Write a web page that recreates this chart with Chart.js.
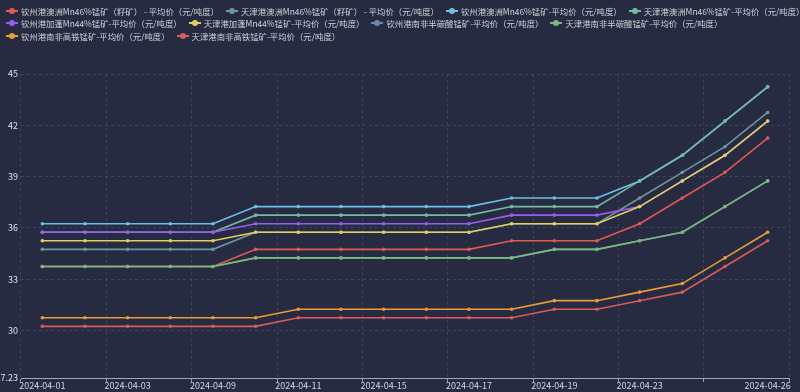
<!DOCTYPE html>
<html>
<head>
<meta charset="utf-8">
<script src="https://cdn.jsdelivr.net/npm/chart.js@4.4.1/dist/chart.umd.min.js"></script>
<style>
html,body{margin:0;padding:0;background:#262b42;}
#wrap{position:relative;width:800px;height:392px;overflow:hidden;background:#262b42;}
#chart{position:absolute;left:0;top:0;}
#legend{position:absolute;left:6px;top:4.5px;font-family:'Noto Sans CJK SC','Noto Sans',sans-serif;font-size:8.4px;color:#d0d1d9;z-index:2;}
.row{display:flex;height:12.6px;align-items:center;white-space:nowrap;}
.item{display:flex;align-items:center;margin-right:7px;}
.ic{position:relative;width:12px;height:6px;margin-right:3px;flex:none;}
.ic .ln{position:absolute;left:0;right:0;top:2px;height:2px;}
.ic .dt{position:absolute;left:3px;top:0;width:6px;height:6px;border-radius:50%;}
</style>
</head>
<body>
<div id="wrap">
<canvas id="chart" width="800" height="392"></canvas>
<div id="legend"></div>
</div>
<script>
// ---- data ----
const categories = ['2024-04-01','2024-04-02','2024-04-03','2024-04-08','2024-04-09','2024-04-10','2024-04-11','2024-04-12','2024-04-15','2024-04-16','2024-04-17','2024-04-18','2024-04-19','2024-04-22','2024-04-23','2024-04-24','2024-04-25','2024-04-26'];
const xTickLabels = ['2024-04-01','2024-04-03','2024-04-09','2024-04-11','2024-04-15','2024-04-17','2024-04-19','2024-04-23','2024-04-26'];
const yTicks = [27.23, 30, 33, 36, 39, 42, 45];

const seriesNames = [
  '钦州港澳洲Mn46%锰矿（籽矿） - 平均价（元/吨度）',
  '天津港澳洲Mn46%锰矿（籽矿） - 平均价（元/吨度）',
  '钦州港澳洲Mn46%锰矿-平均价（元/吨度）',
  '天津港澳洲Mn46%锰矿-平均价（元/吨度）',
  '钦州港加蓬Mn44%锰矿-平均价（元/吨度）',
  '天津港加蓬Mn44%锰矿-平均价（元/吨度）',
  '钦州港南非半碳酸锰矿-平均价（元/吨度）',
  '天津港南非半碳酸锰矿-平均价（元/吨度）',
  '钦州港南非高铁锰矿-平均价（元/吨度）',
  '天津港南非高铁锰矿-平均价（元/吨度）'
];
const qzAusSeed  = [33.75,33.75,33.75,33.75,33.75,34.75,34.75,34.75,34.75,34.75,34.75,35.25,35.25,35.25,36.25,37.75,39.25,41.25];
const tjAusSeed  = [34.75,34.75,34.75,34.75,34.75,35.75,35.75,35.75,35.75,35.75,35.75,36.25,36.25,36.25,37.75,39.25,40.75,42.75];
const qzAus46    = [36.25,36.25,36.25,36.25,36.25,37.25,37.25,37.25,37.25,37.25,37.25,37.75,37.75,37.75,38.75,40.25,42.25,44.25];
const tjAus46    = [35.75,35.75,35.75,35.75,35.75,36.75,36.75,36.75,36.75,36.75,36.75,37.25,37.25,37.25,38.75,40.25,42.25,44.25];
const qzGabon44  = [35.75,35.75,35.75,35.75,35.75,36.25,36.25,36.25,36.25,36.25,36.25,36.75,36.75,36.75,37.25,38.75,40.25,42.25];
const tjGabon44  = [35.25,35.25,35.25,35.25,35.25,35.75,35.75,35.75,35.75,35.75,35.75,36.25,36.25,36.25,37.25,38.75,40.25,42.25];
const qzSaSemi   = [33.75,33.75,33.75,33.75,33.75,34.25,34.25,34.25,34.25,34.25,34.25,34.25,34.75,34.75,35.25,35.75,37.25,38.75];
const tjSaSemi   = [33.75,33.75,33.75,33.75,33.75,34.25,34.25,34.25,34.25,34.25,34.25,34.25,34.75,34.75,35.25,35.75,37.25,38.75];
const qzSaHighFe = [30.75,30.75,30.75,30.75,30.75,30.75,31.25,31.25,31.25,31.25,31.25,31.25,31.75,31.75,32.25,32.75,34.25,35.75];
const tjSaHighFe = [30.25,30.25,30.25,30.25,30.25,30.25,30.75,30.75,30.75,30.75,30.75,30.75,31.25,31.25,31.75,32.25,33.75,35.25];

const seriesValues = [qzAusSeed, tjAusSeed, qzAus46, tjAus46, qzGabon44, tjGabon44, qzSaSemi, tjSaSemi, qzSaHighFe, tjSaHighFe];
const seriesColors = ['#e25a50','#6d97a0','#6cc0e6','#76b9a2','#9b5cf0','#e3cf5e','#6e87a8','#7bb97b','#ec9c36','#d95c5c'];
const legendRows = [[0,1,2,3],[4,5,6,7],[8,9]];

// ---- legend (HTML) ----
const legendEl = document.getElementById('legend');
legendRows.forEach(r => {
  const row = document.createElement('div'); row.className = 'row';
  r.forEach(i => {
    const it = document.createElement('div'); it.className = 'item';
    it.innerHTML = '<span class="ic"><span class="ln" style="background:'+seriesColors[i]+'"></span><span class="dt" style="background:'+seriesColors[i]+'"></span></span><span>'+seriesNames[i]+'</span>';
    row.appendChild(it);
  });
  legendEl.appendChild(row);
});

// ---- chart ----
const gridColor = 'rgba(95,105,140,0.4)';
const n = seriesValues.length;
const datasets = seriesValues.map((vals, i) => ({
  label: seriesNames[i],
  data: vals,
  borderColor: seriesColors[i],
  backgroundColor: seriesColors[i],
  borderWidth: 1.6,
  pointRadius: 1.8,
  pointBorderWidth: 0,
  pointBackgroundColor: seriesColors[i],
  tension: 0,
  order: n - i
}));

new Chart(document.getElementById('chart'), {
  type: 'line',
  data: { labels: categories, datasets },
  options: {
    responsive: false,
    animation: false,
    events: [],
    layout: { padding: { top: 74, left: 0, right: 11, bottom: 0 } },
    plugins: { legend: { display: false }, tooltip: { enabled: false } },
    scales: {
      x: {
        type: 'category',
        offset: true,
        grid: {
          offset: true,
          color: ctx => (ctx.index === undefined || ctx.index % 2 === 0) ? gridColor : 'rgba(0,0,0,0)',
          tickColor: ctx => (ctx.index === undefined || ctx.index % 2 === 0) ? '#9a9db0' : 'rgba(0,0,0,0)',
          tickLength: 4,
          lineWidth: 1
        },
        border: { display: true, color: '#a3a6b8', width: 1, dash: [3, 3] },
        ticks: {
          autoSkip: false,
          maxRotation: 0,
          padding: -2,
          color: '#d4d5dc',
          font: { family: "'Noto Sans CJK SC','Noto Sans',sans-serif", size: 9 },
          callback: (v, i) => xTickLabels.includes(categories[i]) && !(i === 16) ? categories[i] : ''
        },
        afterFit: s => { s.height = 14; }
      },
      y: {
        type: 'linear',
        min: yTicks[0],
        max: yTicks[yTicks.length - 1],
        afterBuildTicks: s => { s.ticks = yTicks.map(v => ({ value: v })); },
        grid: {
          color: ctx => (ctx.tick && ctx.tick.value === yTicks[0]) ? 'rgba(0,0,0,0)' : gridColor,
          drawTicks: false,
          lineWidth: 1
        },
        border: { display: false, dash: [3, 3] },
        ticks: {
          padding: 3,
          color: '#e0e1e6',
          font: { family: "'Noto Sans CJK SC','Noto Sans',sans-serif", size: 9 },
          callback: v => String(v)
        },
        afterFit: s => { s.width = 21; }
      }
    }
  }
});
</script>
</body>
</html>
